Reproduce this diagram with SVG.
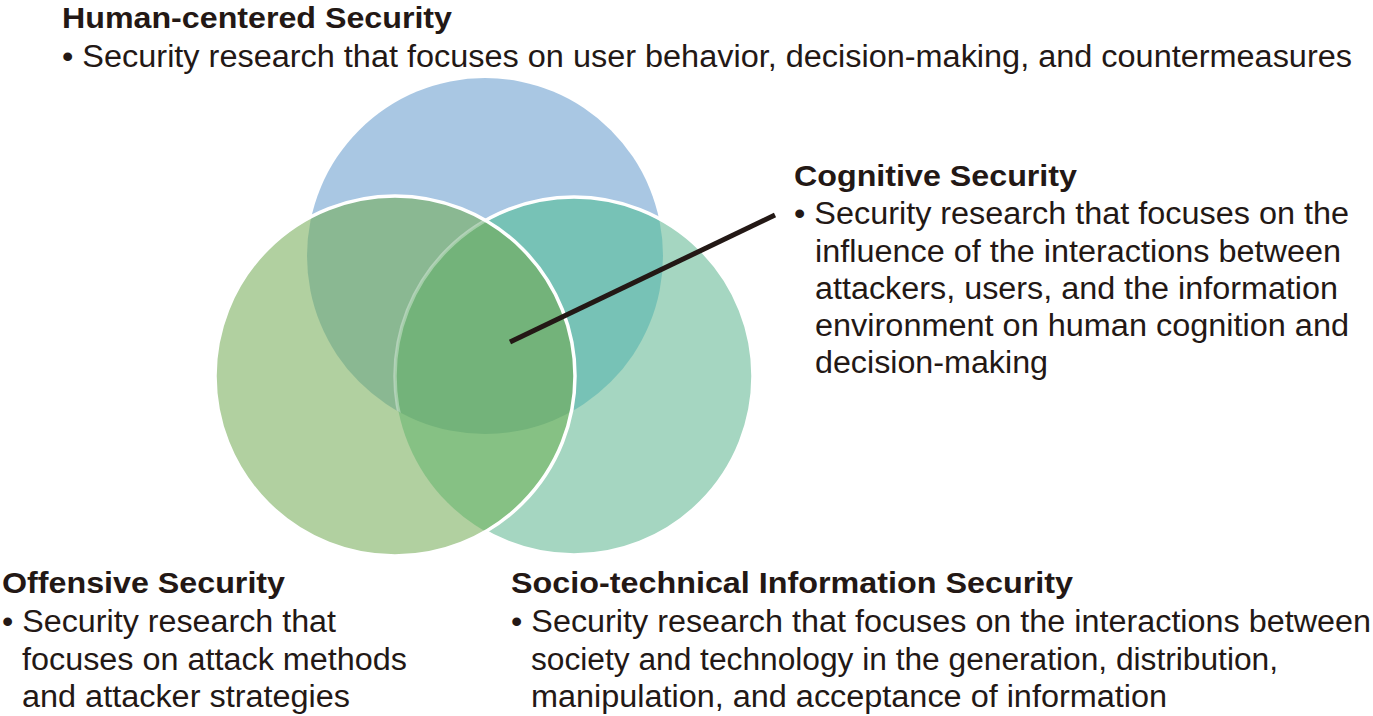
<svg xmlns="http://www.w3.org/2000/svg" width="1373" height="716" viewBox="0 0 1373 716">
<defs>
<style>
.t{font-family:"Liberation Sans",Arial,Helvetica,sans-serif;font-size:31px;fill:#231815}
.b{font-weight:bold;font-size:30px}
.ws{fill:none;stroke:#ffffff;stroke-width:3.5}
</style>
<clipPath id="cpBlue"><circle cx="485" cy="256" r="178"/></clipPath>
<clipPath id="cpGreen"><circle cx="395" cy="376" r="180"/></clipPath>
<clipPath id="cpTeal"><circle cx="574" cy="376" r="179"/></clipPath>
<mask id="mOutGreen" maskUnits="userSpaceOnUse" x="0" y="0" width="1373" height="716">
<rect width="1373" height="716" fill="#fff"/>
<circle cx="395" cy="376" r="180" fill="#000"/>
</mask>
</defs>
<rect width="1373" height="716" fill="#ffffff"/>

<g id="venn">
<g id="circle-human">
<circle cx="485" cy="256" r="178" fill="#A9C7E3"/>
</g>
<g id="circle-socio">
<circle cx="574" cy="376" r="179" fill="#A5D6C1"/>
</g>
<g id="circle-offensive">
<circle cx="395" cy="376" r="180" fill="#B1D0A0"/>
</g>
<g id="overlaps">
<circle cx="395" cy="376" r="180" fill="#8AB892" clip-path="url(#cpBlue)"/>
<circle cx="574" cy="376" r="179" fill="#77C2B6" clip-path="url(#cpBlue)"/>
<circle cx="395" cy="376" r="180" fill="#86C184" clip-path="url(#cpTeal)"/>
<g clip-path="url(#cpGreen)">
<circle cx="574" cy="376" r="179" fill="#73B37A" clip-path="url(#cpBlue)"/>
</g>
</g>
<g id="outlines">
<circle class="ws" cx="574" cy="376" r="179" mask="url(#mOutGreen)"/>
<g clip-path="url(#cpGreen)">
<circle class="ws" cx="574" cy="376" r="179" stroke-opacity="0.35" clip-path="url(#cpBlue)"/>
</g>
<circle class="ws" cx="395" cy="376" r="180"/>
</g>
</g>

<g id="connectors">
<line x1="510" y1="342" x2="775" y2="215" stroke="#231815" stroke-width="5"/>
</g>

<g id="label-human">
<text class="t b" x="62" y="28" textLength="390" lengthAdjust="spacingAndGlyphs">Human-centered Security</text>
<text class="t" x="62" y="67" textLength="1290" lengthAdjust="spacingAndGlyphs">• Security research that focuses on user behavior, decision-making, and countermeasures</text>
</g>

<g id="label-cognitive">
<text class="t b" x="794" y="186" textLength="283" lengthAdjust="spacingAndGlyphs">Cognitive Security</text>
<text class="t" x="794" y="224" textLength="555" lengthAdjust="spacingAndGlyphs">• Security research that focuses on the</text>
<text class="t" x="815" y="262" textLength="526" lengthAdjust="spacingAndGlyphs">influence of the interactions between</text>
<text class="t" x="815" y="299" textLength="523" lengthAdjust="spacingAndGlyphs">attackers, users, and the information</text>
<text class="t" x="815" y="336" textLength="534" lengthAdjust="spacingAndGlyphs">environment on human cognition and</text>
<text class="t" x="815" y="373" textLength="233" lengthAdjust="spacingAndGlyphs">decision-making</text>
</g>

<g id="label-offensive">
<text class="t b" x="2" y="593" textLength="283" lengthAdjust="spacingAndGlyphs">Offensive Security</text>
<text class="t" x="2" y="632" textLength="334" lengthAdjust="spacingAndGlyphs">• Security research that</text>
<text class="t" x="22" y="670" textLength="385" lengthAdjust="spacingAndGlyphs">focuses on attack methods</text>
<text class="t" x="22" y="707" textLength="328" lengthAdjust="spacingAndGlyphs">and attacker strategies</text>
</g>

<g id="label-socio">
<text class="t b" x="511" y="593" textLength="562" lengthAdjust="spacingAndGlyphs">Socio-technical Information Security</text>
<text class="t" x="511" y="632" textLength="860" lengthAdjust="spacingAndGlyphs">• Security research that focuses on the interactions between</text>
<text class="t" x="531" y="670" textLength="747" lengthAdjust="spacingAndGlyphs">society and technology in the generation, distribution,</text>
<text class="t" x="531" y="707" textLength="636" lengthAdjust="spacingAndGlyphs">manipulation, and acceptance of information</text>
</g>
</svg>
